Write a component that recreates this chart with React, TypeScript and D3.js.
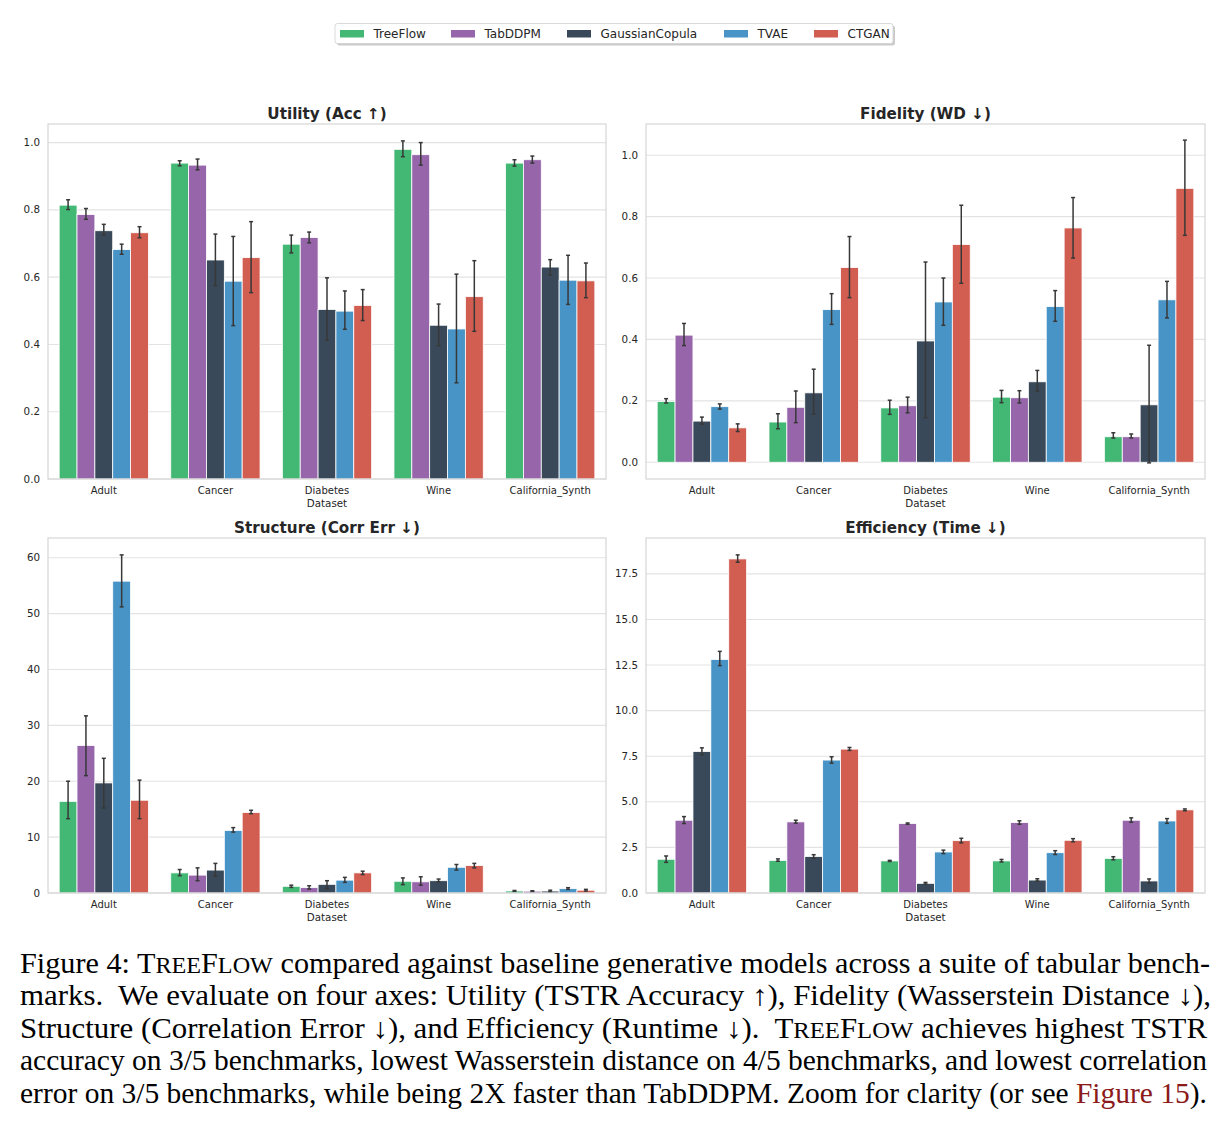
import React from "react";
import * as d3 from "d3";

const datasets = ["Adult", "Cancer", "Diabetes", "Wine", "California_Synth"];
const models = ["TreeFlow", "TabDDPM", "GaussianCopula", "TVAE", "CTGAN"];
const baseColors = ["#2ecc71", "#9b59b6", "#34495e", "#3498db", "#e74c3c"];

// values indexed [model][dataset]
const utilityMean = [
  [0.814, 0.939, 0.698, 0.980, 0.939],
  [0.786, 0.933, 0.718, 0.964, 0.949],
  [0.738, 0.651, 0.504, 0.457, 0.630],
  [0.682, 0.588, 0.499, 0.446, 0.591],
  [0.732, 0.658, 0.516, 0.542, 0.589],
];
const utilityLo = [
  [0.801, 0.931, 0.672, 0.958, 0.930],
  [0.772, 0.919, 0.702, 0.933, 0.939],
  [0.725, 0.575, 0.413, 0.396, 0.606],
  [0.668, 0.456, 0.445, 0.286, 0.519],
  [0.717, 0.554, 0.471, 0.439, 0.539],
];
const utilityHi = [
  [0.830, 0.946, 0.725, 1.005, 0.949],
  [0.804, 0.951, 0.734, 1.000, 0.960],
  [0.757, 0.728, 0.598, 0.520, 0.652],
  [0.698, 0.721, 0.559, 0.609, 0.665],
  [0.750, 0.765, 0.563, 0.649, 0.642],
];

const fidelityMean = [
  [0.198, 0.131, 0.177, 0.212, 0.083],
  [0.414, 0.179, 0.184, 0.210, 0.083],
  [0.134, 0.226, 0.395, 0.262, 0.187],
  [0.181, 0.497, 0.522, 0.507, 0.529],
  [0.112, 0.634, 0.709, 0.763, 0.892],
];
const fidelityLo = [
  [0.193, 0.109, 0.156, 0.194, 0.079],
  [0.380, 0.129, 0.161, 0.193, 0.079],
  [0.124, 0.157, 0.145, 0.232, -0.002],
  [0.173, 0.449, 0.446, 0.459, 0.470],
  [0.100, 0.536, 0.583, 0.665, 0.739],
];
const fidelityHi = [
  [0.207, 0.158, 0.202, 0.234, 0.096],
  [0.452, 0.232, 0.212, 0.233, 0.092],
  [0.147, 0.303, 0.652, 0.299, 0.381],
  [0.190, 0.549, 0.600, 0.559, 0.589],
  [0.125, 0.735, 0.837, 0.862, 1.049],
];

const structureMean = [
  [16.4, 3.6, 1.2, 2.1, 0.36],
  [26.4, 3.2, 0.96, 2.0, 0.33],
  [19.7, 4.1, 1.55, 2.2, 0.35],
  [55.8, 11.2, 2.3, 4.6, 0.78],
  [16.6, 14.4, 3.6, 4.9, 0.5],
];
const structureLo = [
  [13.3, 3.1, 1.0, 1.5, 0.28],
  [21.0, 2.2, 0.7, 1.4, 0.26],
  [15.2, 3.0, 0.8, 2.0, 0.2],
  [51.2, 10.9, 1.9, 4.1, 0.65],
  [13.3, 14.2, 3.3, 4.5, 0.35],
];
const structureHi = [
  [20.0, 4.2, 1.4, 2.7, 0.45],
  [31.7, 4.5, 1.3, 2.9, 0.4],
  [24.1, 5.3, 2.2, 2.5, 0.5],
  [60.5, 11.7, 2.8, 5.1, 0.95],
  [20.2, 14.8, 3.9, 5.3, 0.65],
];

const efficiencyMean = [
  [1.85, 1.79, 1.76, 1.76, 1.9],
  [3.99, 3.9, 3.81, 3.86, 3.99],
  [7.76, 2.0, 0.53, 0.71, 0.66],
  [12.81, 7.29, 2.25, 2.21, 3.95],
  [18.32, 7.89, 2.87, 2.89, 4.56],
];
const efficiencyLo = [
  [1.68, 1.74, 1.73, 1.7, 1.82],
  [3.81, 3.83, 3.77, 3.77, 3.88],
  [7.58, 1.9, 0.49, 0.65, 0.55],
  [12.47, 7.12, 2.16, 2.11, 3.82],
  [18.14, 7.82, 2.75, 2.81, 4.51],
];
const efficiencyHi = [
  [2.03, 1.87, 1.79, 1.84, 1.99],
  [4.19, 3.99, 3.84, 3.96, 4.12],
  [7.96, 2.1, 0.58, 0.78, 0.77],
  [13.25, 7.47, 2.35, 2.32, 4.08],
  [18.54, 7.98, 3.0, 2.98, 4.61],
];

const utilityTicks = [0, 0.2, 0.4, 0.6, 0.8, 1.0];
const fidelityTicks = [0, 0.2, 0.4, 0.6, 0.8, 1.0];
const structureTicks = [0, 10, 20, 30, 40, 50, 60];
const efficiencyTicks = [0, 2.5, 5, 7.5, 10, 12.5, 15, 17.5];

const titles = ["Utility (Acc \u2191)", "Fidelity (WD \u2193)", "Structure (Corr Err \u2193)", "Efficiency (Time \u2193)"];
const xAxisLabel = "Dataset";

const captionLines = [
  [["Figure 4: T", 1], ["REE", 0.8], ["F", 1], ["LOW", 0.8], [" compared against baseline generative models across a suite of tabular bench-", 1]],
  [["marks.  We evaluate on four axes: Utility (TSTR Accuracy \u2191), Fidelity (Wasserstein Distance \u2193),", 1]],
  [["Structure (Correlation Error \u2193), and Efficiency (Runtime \u2193).  T", 1], ["REE", 0.8], ["F", 1], ["LOW", 0.8], [" achieves highest TSTR", 1]],
  [["accuracy on 3/5 benchmarks, lowest Wasserstein distance on 4/5 benchmarks, and lowest correlation", 1]],
  [["error on 3/5 benchmarks, while being 2X faster than TabDDPM. Zoom for clarity (or see ", 1], ["Figure 15", 1, "#8b1a1a"], [").", 1]],
];

const colors = baseColors.map((c) => {
  const h = d3.hsl(c);
  h.s = h.s * 0.75;
  return h.formatHex();
});

const FONT = "'DejaVu Sans', sans-serif";
const TXT = "#262626";

type PanelProps = {
  title: string;
  mean: number[][];
  lo: number[][];
  hi: number[][];
  ticks: number[];
  fmt: (v: number) => string;
  box: { left: number; top: number; right: number; bottom: number };
};

function Panel({ title, mean, lo, hi, ticks, fmt, box }: PanelProps) {
  const allLo = d3.min(lo.flat()) as number;
  const allHi = d3.max(hi.flat()) as number;
  const dataMin = Math.min(0, allLo);
  const range = allHi - dataMin;
  const yMin = allLo < 0 ? dataMin - 0.05 * range : 0;
  const yMax = allHi + 0.05 * range;
  const y = d3.scaleLinear().domain([yMin, yMax]).range([box.bottom, box.top]);
  const x = d3.scaleBand().domain(datasets).range([box.left, box.right]).paddingInner(0).paddingOuter(0);
  const bw = x.bandwidth();
  const xm = d3.scaleBand().domain(models).range([bw * 0.1, bw * 0.9]).padding(0);
  const w = xm.bandwidth();
  const cx = (box.left + box.right) / 2;
  return (
    <g>
      <rect x={box.left} y={box.top} width={box.right - box.left} height={box.bottom - box.top} fill="#ffffff" />
      {ticks.map((t) => (
        <g key={t}>
          <line x1={box.left} x2={box.right} y1={y(t)} y2={y(t)} stroke="#e3e3e3" strokeWidth={1.1} />
          <text x={box.left - 8} y={y(t)} dy="0.35em" textAnchor="end" fontSize={10.3} fill={TXT} style={{ fontFamily: FONT }}>
            {fmt(t)}
          </text>
        </g>
      ))}
      {models.map((m, mi) =>
        datasets.map((ds, di) => {
          const bx = (x(ds) as number) + (xm(m) as number);
          const v = mean[mi][di];
          const y0 = y(0);
          const yv = y(v);
          return (
            <rect
              key={m + ds}
              x={bx}
              y={Math.min(y0, yv)}
              width={w}
              height={Math.abs(y0 - yv)}
              fill={colors[mi]}
              stroke="#ffffff"
              strokeWidth={0.8}
            />
          );
        })
      )}
      {models.map((m, mi) =>
        datasets.map((ds, di) => {
          const bx = (x(ds) as number) + (xm(m) as number) + w / 2;
          const a = y(lo[mi][di]);
          const b = y(hi[mi][di]);
          return (
            <g key={"e" + m + ds} stroke="#383838" strokeWidth={1.5}>
              <line x1={bx} x2={bx} y1={a} y2={b} />
              <line x1={bx - 2} x2={bx + 2} y1={a} y2={a} />
              <line x1={bx - 2} x2={bx + 2} y1={b} y2={b} />
            </g>
          );
        })
      )}
      <rect
        x={box.left}
        y={box.top}
        width={box.right - box.left}
        height={box.bottom - box.top}
        fill="none"
        stroke="#d6d6d6"
        strokeWidth={1.2}
      />
      {datasets.map((ds) => (
        <text
          key={ds}
          x={(x(ds) as number) + bw / 2}
          y={box.bottom + 15}
          textAnchor="middle"
          fontSize={10}
          fill={TXT}
          style={{ fontFamily: FONT }}
        >
          {ds}
        </text>
      ))}
      <text x={cx} y={box.bottom + 28} textAnchor="middle" fontSize={10.3} fill={TXT} style={{ fontFamily: FONT }}>
        {xAxisLabel}
      </text>
      <text x={cx} y={box.top - 5} textAnchor="middle" fontSize={15.2} fontWeight="bold" fill={TXT} style={{ fontFamily: FONT }}>
        {title}
      </text>
    </g>
  );
}

function Legend() {
  const xs = [340, 451, 567, 724, 814];
  return (
    <g>
      <rect x={337} y={25.5} width={558} height={20} rx={2.5} fill="#a8a8a8" opacity={0.6} />
      <rect x={335} y={23.5} width={558} height={20} rx={2.5} fill="#ffffff" stroke="#cfcfcf" strokeWidth={0.8} />
      {models.map((m, i) => (
        <g key={m}>
          <rect x={xs[i]} y={30} width={24} height={7.5} fill={colors[i]} />
          <text x={xs[i] + 33.5} y={38} fontSize={12} fill={TXT} style={{ fontFamily: FONT }}>
            {m}
          </text>
        </g>
      ))}
    </g>
  );
}

function Caption() {
  const x0 = 20;
  const base = 972.5;
  const lh = 32.6;
  const fs = 28.6;
  const ends = [1210, 1211, 1207, 1207, 1207];
  return (
    <g style={{ fontFamily: "'Liberation Serif', 'Times New Roman', Times, serif" }} fontSize={fs} fill="#000">
      {captionLines.map((parts, li) => (
        <text key={li} x={x0} y={base + li * lh} textLength={ends[li] - x0} lengthAdjust="spacingAndGlyphs" xmlSpace="preserve">
          {parts.map((p, pi) => (
            <tspan key={pi} fontSize={fs * (p[1] as number)} fill={(p[2] as string) || "#000"}>
              {p[0] as string}
            </tspan>
          ))}
        </text>
      ))}
    </g>
  );
}

export default function App() {
  const panels = [
    { title: titles[0], mean: utilityMean, lo: utilityLo, hi: utilityHi, ticks: utilityTicks, fmt: (v: number) => v.toFixed(1), box: { left: 48, top: 124, right: 606, bottom: 479 } },
    { title: titles[1], mean: fidelityMean, lo: fidelityLo, hi: fidelityHi, ticks: fidelityTicks, fmt: (v: number) => v.toFixed(1), box: { left: 646, top: 124, right: 1205, bottom: 479 } },
    { title: titles[2], mean: structureMean, lo: structureLo, hi: structureHi, ticks: structureTicks, fmt: (v: number) => String(v), box: { left: 48, top: 538, right: 606, bottom: 893 } },
    { title: titles[3], mean: efficiencyMean, lo: efficiencyLo, hi: efficiencyHi, ticks: efficiencyTicks, fmt: (v: number) => v.toFixed(1), box: { left: 646, top: 538, right: 1205, bottom: 893 } },
  ];
  return (
    <svg width={1227} height={1126} style={{ position: "absolute", left: 0, top: 0, background: "#fff" }}>
      <rect width={1227} height={1126} fill="#fff" />
      <Legend />
      {panels.map((p, i) => (
        <Panel key={i} {...p} />
      ))}
      <Caption />
    </svg>
  );
}
